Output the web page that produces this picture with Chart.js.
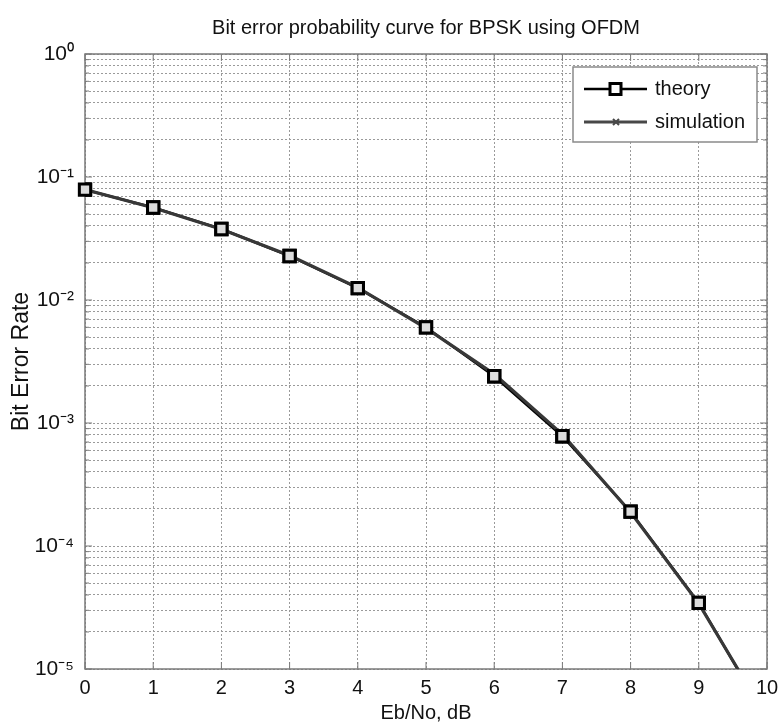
<!DOCTYPE html>
<html>
<head>
<meta charset="utf-8">
<script src="https://cdn.jsdelivr.net/npm/chart.js@4"></script>
<style>
  html, body { margin: 0; padding: 0; background: #fff; }
  #wrap { width: 778px; height: 727px; }
</style>
</head>
<body>
<div id="wrap"><canvas id="berChart"></canvas></div>
<script>
// Eb/No in dB and bit error rates
var ebno = [0, 1, 2, 3, 4, 5, 6, 7, 8, 9, 10];
var theory = [0.079, 0.0565, 0.0378, 0.0228, 0.0125, 0.0060, 0.0024, 0.00078, 0.00019, 0.0000345, 0.0000039];
var simulation = [0.0790, 0.0562, 0.0376, 0.0230, 0.0126, 0.0059, 0.0025, 0.00081, 0.000188, 0.0000340, 0.0000040];
var xTicks = [0, 1, 2, 3, 4, 5, 6, 7, 8, 9, 10];
var decades = [-5, -4, -3, -2, -1, 0];

var sup = {'0': '\u2070', '1': '\u00b9', '2': '\u00b2', '3': '\u00b3', '4': '\u2074', '5': '\u2075', '-': '\u207b'};
function powLabel(e) {
    return '10' + String(e).split('').map(function (c) { return sup[c]; }).join('');
}

var FONT = "'Liberation Sans', Arial, sans-serif";

// frame + short tick marks like matlab
var frame = {
    id: 'frame',
    beforeDatasetsDraw: function (chart) {
        var ctx = chart.ctx, a = chart.chartArea;
        var xs = chart.scales.x, ys = chart.scales.y;
        ctx.save();
        ctx.strokeStyle = '#7a7a7a';
        ctx.lineWidth = 1.5;
        ctx.strokeRect(a.left, a.top, a.right - a.left, a.bottom - a.top);
        ctx.lineWidth = 1;
        ctx.beginPath();
        xTicks.forEach(function (v) {
            var px = xs.getPixelForValue(v);
            ctx.moveTo(px, a.bottom); ctx.lineTo(px, a.bottom - 7);
            ctx.moveTo(px, a.top); ctx.lineTo(px, a.top + 7);
        });
        ys.ticks.forEach(function (t) {
            var py = ys.getPixelForValue(t.value);
            var len = t.label ? 7 : 4;
            ctx.moveTo(a.left, py); ctx.lineTo(a.left + len, py);
            ctx.moveTo(a.right, py); ctx.lineTo(a.right - len, py);
        });
        ctx.stroke();
        ctx.restore();
    },
    afterDatasetsDraw: function (chart) {
        // squares of the theory curve sit on top of the simulation line
        var ctx = chart.ctx;
        ctx.save();
        chart.getDatasetMeta(0).data.forEach(function (p) { p.draw(ctx, chart.chartArea); });
        ctx.restore();
    }
};

var legendBox = {
    id: 'legendBox',
    afterDraw: function (chart) {
        var ctx = chart.ctx, a = chart.chartArea;
        var x0 = a.right - 194, y0 = a.top + 13, w = 184, h = 75;
        ctx.save();
        ctx.fillStyle = '#fff';
        ctx.fillRect(x0, y0, w, h);
        ctx.strokeStyle = '#8a8a8a';
        ctx.lineWidth = 1.5;
        ctx.strokeRect(x0, y0, w, h);

        var y1 = y0 + 22, y2 = y0 + 55;
        // theory sample
        ctx.strokeStyle = '#000';
        ctx.lineWidth = 2.5;
        ctx.beginPath(); ctx.moveTo(x0 + 11, y1); ctx.lineTo(x0 + 74, y1); ctx.stroke();
        ctx.fillStyle = '#fff';
        ctx.fillRect(x0 + 37, y1 - 5.5, 11, 11);
        ctx.lineWidth = 3;
        ctx.strokeRect(x0 + 37, y1 - 5.5, 11, 11);
        // simulation sample
        ctx.strokeStyle = '#484848';
        ctx.lineWidth = 3;
        ctx.beginPath(); ctx.moveTo(x0 + 11, y2); ctx.lineTo(x0 + 74, y2); ctx.stroke();
        ctx.lineWidth = 2;
        ctx.beginPath();
        ctx.moveTo(x0 + 40, y2 - 3); ctx.lineTo(x0 + 46, y2 + 3);
        ctx.moveTo(x0 + 46, y2 - 3); ctx.lineTo(x0 + 40, y2 + 3);
        ctx.stroke();

        ctx.fillStyle = '#111';
        ctx.font = '20px ' + FONT;
        ctx.textBaseline = 'middle';
        ctx.fillText('theory', x0 + 82, y1);
        ctx.fillText('simulation', x0 + 82, y2);
        ctx.restore();
    }
};

new Chart(document.getElementById('berChart'), {
    type: 'line',
    data: {
        datasets: [
            {
                label: 'theory',
                data: ebno.map(function (x, i) { return {x: x, y: theory[i]}; }),
                borderColor: '#000',
                borderWidth: 2.5,
                pointStyle: 'rect',
                pointRadius: 8,
                pointBorderWidth: 3,
                pointBorderColor: '#000',
                pointBackgroundColor: '#dcdcdc',
                order: 2
            },
            {
                label: 'simulation',
                data: ebno.map(function (x, i) { return {x: x, y: simulation[i]}; }),
                borderColor: '#383838',
                borderWidth: 3.2,
                pointStyle: 'crossRot',
                pointRadius: 3,
                pointBorderWidth: 2,
                pointBorderColor: '#444',
                order: 1
            }
        ]
    },
    options: {
        responsive: true,
        maintainAspectRatio: false,
        animation: false,
        layout: { padding: { left: 0, right: 11, top: 0, bottom: 0 } },
        plugins: {
            legend: { display: false },
            tooltip: { enabled: false },
            title: {
                display: true,
                fullSize: false,
                text: 'Bit error probability curve for BPSK using OFDM',
                color: '#111',
                font: { family: FONT, size: 20, weight: 'normal' },
                padding: { top: 16, bottom: 14 }
            }
        },
        scales: {
            x: {
                type: 'linear',
                min: 0,
                max: 10,
                afterFit: function (s) { s.height = 58; s.paddingRight = 0; s.paddingLeft = 0; },
                afterBuildTicks: function (s) { s.ticks = xTicks.map(function (v) { return {value: v}; }); },
                ticks: { color: '#111', font: { family: FONT, size: 20 }, padding: 7, autoSkip: false, maxRotation: 0 },
                grid: { color: '#9a9a9a', lineWidth: 1, drawTicks: false },
                border: { display: false, dash: [2, 2] },
                title: {
                    display: true,
                    text: 'Eb/No, dB',
                    color: '#111',
                    font: { family: FONT, size: 20 },
                    padding: { top: 0, bottom: 2 }
                }
            },
            y: {
                type: 'logarithmic',
                min: 1e-5,
                max: 1,
                afterFit: function (s) { s.width = 85; },
                afterBuildTicks: function (s) {
                    var t = [];
                    decades.forEach(function (e) {
                        if (e === 0) { t.push({value: 1}); return; }
                        for (var m = 1; m <= 9; m++) t.push({value: +(m * Math.pow(10, e)).toPrecision(3)});
                    });
                    s.ticks = t;
                },
                ticks: {
                    color: '#111',
                    font: { family: FONT, size: 21 },
                    padding: 11,
                    autoSkip: false,
                    callback: function (v) {
                        var e = Math.log10(v);
                        return Math.abs(e - Math.round(e)) < 1e-9 ? powLabel(Math.round(e)) : '';
                    }
                },
                grid: { color: '#9a9a9a', lineWidth: 1, drawTicks: false },
                border: { display: false, dash: [2, 2] },
                title: {
                    display: true,
                    text: 'Bit Error Rate',
                    color: '#111',
                    font: { family: FONT, size: 23 },
                    padding: { top: 8, bottom: 0 }
                }
            }
        }
    },
    plugins: [frame, legendBox]
});
</script>
</body>
</html>
